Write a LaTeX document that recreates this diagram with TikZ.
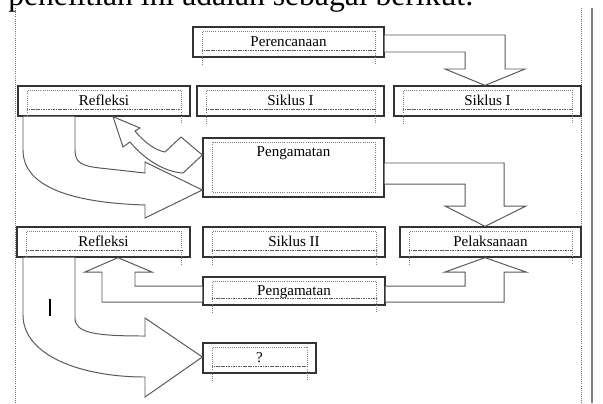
\documentclass[tikz,border=0pt]{standalone}
\usepackage{fontspec}
\setmainfont{Liberation Serif}
\usepackage{tikz}
\usetikzlibrary{positioning,calc}
\newcommand{\pxl}{0.025cm}

\begin{document}
\begin{tikzpicture}[
    x=\pxl, y=-\pxl,
    labelbox/.style={rectangle, draw=black!80, line width=0.9pt, fill=white, inner sep=0pt, text height=0.475cm, text depth=0.275cm, font=\fontsize{10.7}{12}\selectfont},
    barrow/.style={draw=black!65, fill=white, line width=0.7pt, line join=miter},
    dotframe/.style={draw=black!50, densely dotted, line width=0.5pt},
    hatchline/.style={draw=black!65, line width=1.1pt, dash pattern=on 0.8pt off 0.4pt},
    pageedge/.style={draw=black!55, densely dotted, line width=0.5pt},
    cursorbar/.style={draw=black, line width=1.4pt}
]
    \useasboundingbox (0,0) rectangle (603,403);
    \clip (0,0) rectangle (603,403);

    \node[anchor=base west, inner sep=0pt, font=\fontsize{22.5}{27}\selectfont] (intro) at (8,5) {penelitian ini adalah sebagai berikut:};

    \draw[pageedge] (15,8) -- (15,403);
    \draw[pageedge] (581,8) -- (581,403);
    \draw[black!50, line width=1.1pt] (592,8) -- (592,403);

    \node[labelbox, minimum width=4.775cm] (per) at (288.5,42) {Perencanaan};
    \node[labelbox, minimum width=4.3cm] (ref1) at (104,101) {Refleksi};
    \node[labelbox, minimum width=4.675cm] (sik1) at (290.5,101) {Siklus I};
    \node[labelbox, minimum width=4.675cm] (sik1b) at (487.5,101) {Siklus I};
    \node[labelbox, minimum width=4.525cm, text height=0.45cm, text depth=1.025cm] (pen1) at (293.5,167.5) {Pengamatan};
    \node[labelbox, minimum width=4.325cm] (ref2) at (103.5,242) {Refleksi};
    \node[labelbox, minimum width=4.55cm] (sik2) at (294,242) {Siklus II};
    \node[labelbox, minimum width=4.525cm] (pel) at (490.5,242) {Pelaksanaan};
    \node[labelbox, minimum width=4.55cm, text height=0.45cm, text depth=0.25cm] (pen2) at (294,291) {Pengamatan};
    \node[labelbox, minimum width=2.825cm] (que) at (259.5,358) {?};

    \foreach \n in {per,ref1,sik1,sik1b,ref2,sik2,pel,pen2,que}{
        \draw[dotframe] ([shift={(10,7)}]\n.south west) -- ([shift={(10,5)}]\n.north west) -- ([shift={(-9,5)}]\n.north east) -- ([shift={(-9,7)}]\n.south east);
        \draw[hatchline] ([shift={(10,-7)}]\n.south west) -- ([shift={(-9,-7)}]\n.south east);
    }
    \draw[dotframe] ([shift={(10,5)}]pen1.north west) rectangle ([shift={(-9,-5)}]pen1.south east);

    \draw[barrow] (per.east |- 0,35) -- (505,35) -- (505,69) -- (525,69) -- (sik1b.north -| 485,0) -- (445,69) -- (465,69) -- (465,52) -- (per.east |- 0,52);
    \draw[barrow] (pen1.east |- 0,163) -- (504,163) -- (504,206) -- (526,206) -- (pel.north -| 485,0) -- (445,206) -- (465,206) -- (465,184) -- (pen1.east |- 0,184);
    \draw[barrow] (pen2.west |- 0,286) -- (135,286) -- (135,272) -- (152,272) -- (ref2.south -| 118,0) -- (85,272) -- (102,272) -- (102,302) -- (pen2.west |- 0,302);
    \draw[barrow] (pen2.east |- 0,286) -- (465,286) -- (465,272) -- (445,272) -- (pel.south -| 485,0) -- (526,272) -- (504,272) -- (504,302) -- (pen2.east |- 0,302);
    \draw[barrow] (ref1.south -| 23,0) -- (23,150) .. controls (23,190) and (80,203) .. (145,205) -- (145,218) -- (pen1.west |- 0,190) -- (145,162) -- (145,173) -- (100,168) .. controls (82,166) and (75,163) .. (75,150) -- (ref1.south -| 75,0);
    \draw[barrow] (ref2.south -| 23,0) -- (23,315) .. controls (23,355) and (80,377) .. (145,377) -- (145,397) -- (que.west |- 0,357) -- (145,318) -- (145,336) .. controls (95,336) and (75,333) .. (75,318) -- (ref2.south -| 75,0);
    \draw[barrow] (pen1.west |- 0,155) -- (183,173) .. controls (165,172) and (145,160) .. (130,142) -- (123,147) -- (ref1.south -| 113,0) -- (140,128) -- (135,131) .. controls (145,143) and (155,150) .. (165,152) -- (181,137) -- cycle;

    \draw[cursorbar] (50,299) -- (50,316);

\end{tikzpicture}
\end{document}
